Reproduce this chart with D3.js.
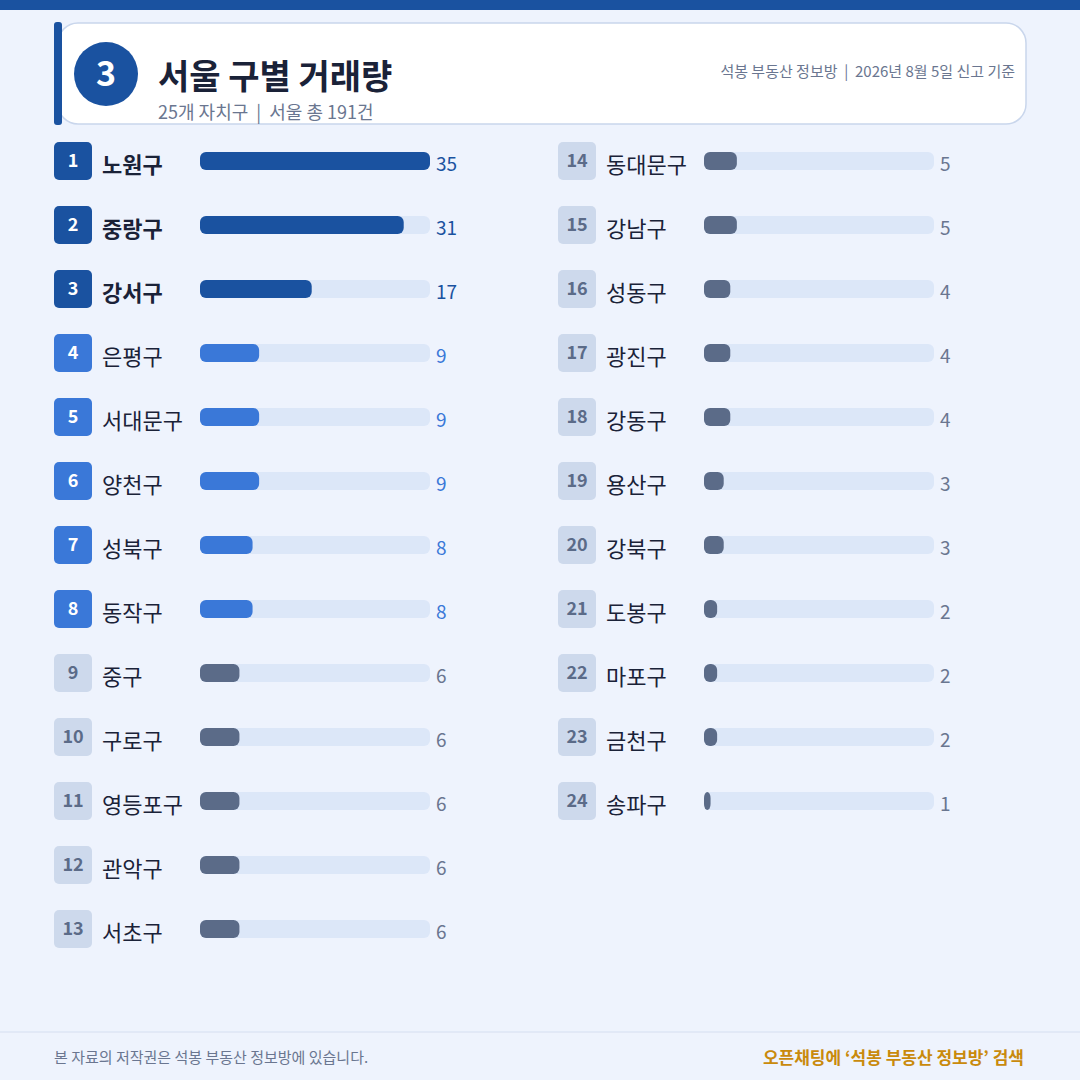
<!DOCTYPE html>
<html><head><meta charset="utf-8">
<script src="https://cdn.jsdelivr.net/npm/d3@7"></script>
<style>body{margin:0;background:#eef3fd;}svg{display:block;font-family:"Noto Sans CJK KR","Noto Sans",sans-serif;}</style>
</head><body>
<svg id="c" width="1080" height="1080"></svg>
<script>
var districts = ["노원구","중랑구","강서구","은평구","서대문구","양천구","성북구","동작구","중구","구로구","영등포구","관악구","서초구",
  "동대문구","강남구","성동구","광진구","강동구","용산구","강북구","도봉구","마포구","금천구","송파구"];
var counts = [35,31,17,9,9,9,8,8,6,6,6,6,6,5,5,4,4,4,3,3,2,2,2,1];

var svg = d3.select("#c");
svg.append("rect").attr("width",1080).attr("height",1080).attr("fill","#eef3fd");
svg.append("rect").attr("width",1080).attr("height",10).attr("fill","#1a52a0");

// 헤더 카드
svg.append("rect").attr("x",58).attr("y",23).attr("width",968).attr("height",101).attr("rx",20)
  .attr("fill","#fff").attr("stroke","#c9d6ec").attr("stroke-width",1.5);
svg.append("rect").attr("x",54).attr("y",22).attr("width",8).attr("height",103).attr("rx",3).attr("fill","#1a52a0");
svg.append("circle").attr("cx",106).attr("cy",74).attr("r",32).attr("fill","#1a52a0");
svg.append("text").attr("x",106).attr("y",86).attr("text-anchor","middle").attr("fill","#fff")
  .attr("font-size",34).attr("font-weight",700).text("3");
svg.append("text").attr("x",158).attr("y",89).attr("fill","#1a2238").attr("font-size",34).attr("font-weight",700).text("서울 구별 거래량");
svg.append("text").attr("x",158).attr("y",119).attr("fill","#6a7690").attr("font-size",18).text("25개 자치구\u00a0\u00a0|\u00a0\u00a0서울 총 191건");
svg.append("text").attr("x",1015).attr("y",77).attr("text-anchor","end").attr("fill","#6a7690").attr("font-size",15)
  .text("석봉 부동산 정보방\u00a0\u00a0|\u00a0\u00a02026년 8월 5일 신고 기준");

var x = d3.scaleLinear().domain([0,d3.max(counts)]).range([0,230]);
var rows = districts.map(function(d,i){ return {name:d, v:counts[i], rank:i+1, col:i<13?0:1, row:i<13?i:i-13}; });
function tier(r){ return r<=3?0:(r<=8?1:2); }
var barC = ["#1a52a0","#3a78d8","#5b6b88"], badgeC = ["#1a52a0","#3a78d8","#cdd9ec"],
    badgeT = ["#fff","#fff","#5b6b88"], valC = ["#1a52a0","#3a78d8","#6a7690"];

var g = svg.selectAll("g.row").data(rows).enter().append("g")
  .attr("transform",function(d){ return "translate("+(54+d.col*504)+","+(161+d.row*64)+")"; });
g.append("rect").attr("x",0).attr("y",-19).attr("width",38).attr("height",38).attr("rx",5)
  .attr("fill",function(d){ return badgeC[tier(d.rank)]; });
g.append("text").attr("x",19).attr("y",6).attr("text-anchor","middle").attr("font-size",18).attr("font-weight",700)
  .attr("fill",function(d){ return badgeT[tier(d.rank)]; }).text(function(d){ return d.rank; });
g.append("text").attr("x",48).attr("y",12).attr("font-size",22)
  .attr("font-weight",function(d){ return d.rank<=3?700:400; }).attr("fill","#1a2238").text(function(d){ return d.name; });
g.append("rect").attr("x",146).attr("y",-9).attr("width",230).attr("height",18).attr("rx",6).attr("fill","#dce7f8");
g.append("rect").attr("x",146).attr("y",-9).attr("width",function(d){ return Math.max(6,x(d.v)); }).attr("height",18).attr("rx",6)
  .attr("fill",function(d){ return barC[tier(d.rank)]; });
g.append("text").attr("x",382).attr("y",10).attr("font-size",19)
  .attr("fill",function(d){ return valC[tier(d.rank)]; }).text(function(d){ return d.v; });

// 푸터
svg.append("line").attr("x1",0).attr("x2",1080).attr("y1",1032).attr("y2",1032).attr("stroke","#d5def0");
svg.append("text").attr("x",54).attr("y",1063).attr("fill","#6a7690").attr("font-size",15).text("본 자료의 저작권은 석봉 부동산 정보방에 있습니다.");
svg.append("text").attr("x",1024).attr("y",1064).attr("text-anchor","end").attr("fill","#c98a0c").attr("font-size",17).attr("font-weight",700)
  .text("오픈채팅에 ‘석봉 부동산 정보방’ 검색");
</script>
</body></html>
